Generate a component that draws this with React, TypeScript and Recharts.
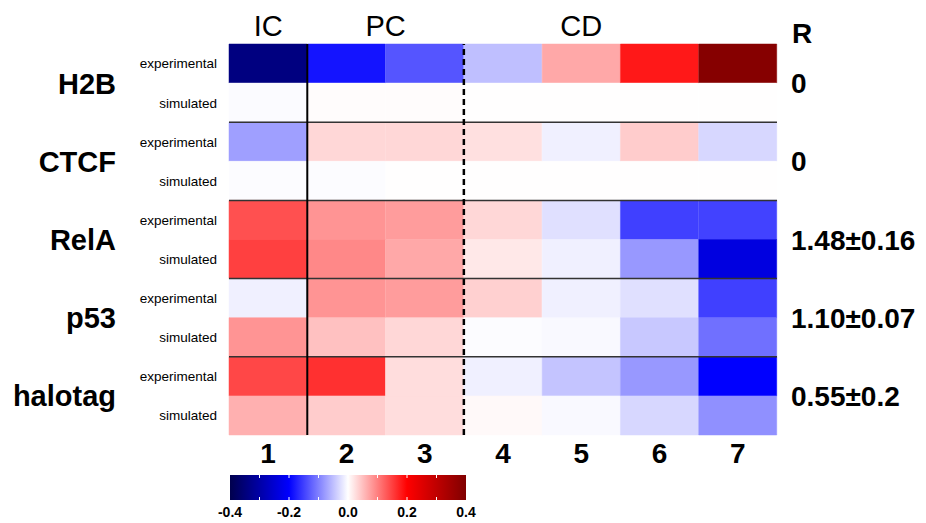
import {
  Bar,
  BarChart,
  Cell,
  ComposedChart,
  ReferenceArea,
  ReferenceLine,
  Scatter,
  XAxis,
  YAxis,
} from 'recharts';

const FONT = '"Liberation Sans", Arial, Helvetica, sans-serif';

// columns (time bins) and row groups
const columns = ['1', '2', '3', '4', '5', '6', '7'];
const proteins = ['H2B', 'CTCF', 'RelA', 'p53', 'halotag'];
const conditions = ['experimental', 'simulated'];
const rValues = ['0', '0', '1.48±0.16', '1.10±0.07', '0.55±0.2'];
const phaseLabels = ['IC', 'PC', 'CD'];
// column each phase label sits on, and where on that column
const phaseCols = ['1', '3', '5'];
const phasePos: ('start' | 'middle' | 'end')[] = ['middle', 'start', 'middle'];
const colorbarTicks = [-0.4, -0.2, 0, 0.2, 0.4];
const colorbarMinor = [-0.3, -0.2, -0.1, 0, 0.1, 0.2, 0.3];

// heatmap values, one array per row
const h2bExp = [-0.343, -0.184, -0.133, -0.05, 0.068, 0.181, 0.39];
const h2bSim = [-0.003, 0.002, 0.002, 0.001, 0.001, 0.001, 0.001];
const ctcfExp = [-0.075, 0.031, 0.031, 0.024, -0.012, 0.04, -0.031];
const ctcfSim = [-0.002, -0.002, 0.001, 0.001, 0.001, 0.001, 0.001];
const relaExp = [0.137, 0.084, 0.078, 0.031, -0.024, -0.15, -0.148];
const relaSim = [0.15, 0.093, 0.068, 0.018, -0.012, -0.081, -0.235];
const p53Exp = [-0.012, 0.084, 0.078, 0.037, -0.012, -0.024, -0.15];
const p53Sim = [0.084, 0.049, 0.031, -0.002, -0.005, -0.043, -0.112];
const haloExp = [0.144, 0.162, 0.027, -0.012, -0.046, -0.081, -0.2];
const haloSim = [0.062, 0.04, 0.027, 0.005, -0.005, -0.031, -0.087];

const heatRows = [h2bExp, h2bSim, ctcfExp, ctcfSim, relaExp, relaSim, p53Exp, p53Sim, haloExp, haloSim];

const V_MIN = -0.4;
const V_MAX = 0.4;
const ROW_H = 39.1;

// matplotlib "seismic"
const SEISMIC: [number, number[]][] = [
  [0, [0, 0, 77]],
  [0.25, [0, 0, 255]],
  [0.5, [255, 255, 255]],
  [0.75, [255, 0, 0]],
  [1, [128, 0, 0]],
];

function seismic(v: number): string {
  const t = Math.min(1, Math.max(0, (v - V_MIN) / (V_MAX - V_MIN)));
  for (let i = 1; i < SEISMIC.length; i++) {
    const [t1, c1] = SEISMIC[i];
    const [t0, c0] = SEISMIC[i - 1];
    if (t <= t1) {
      const f = (t - t0) / (t1 - t0);
      const c = c0.map((a, k) => Math.round(a + (c1[k] - a) * f));
      return `rgb(${c[0]},${c[1]},${c[2]})`;
    }
  }
  return 'rgb(128,0,0)';
}

const data = columns.map((col) => {
  const row: Record<string, string | number> = { col };
  heatRows.forEach((_, ri) => {
    row[`r${ri}`] = 1;
  });
  return row;
});

const colorbarData = [
  { x: V_MIN, y: 0 },
  { x: V_MAX, y: 1 },
];

const groupTicks = proteins.map((_, i) => i * conditions.length + conditions.length / 2);
const groupBounds = proteins.slice(1).map((_, i) => (i + 1) * conditions.length);

function RowTick(props: any) {
  const { x, y, index } = props;
  return (
    <g fontFamily={FONT} fill="#000">
      <text x={x - 101} y={y} dy="0.36em" textAnchor="end" fontSize={29} fontWeight="bold">
        {proteins[index]}
      </text>
      <text x={x} y={y - ROW_H / 2} dy="0.36em" textAnchor="end" fontSize={13.5}>
        {conditions[0]}
      </text>
      <text x={x} y={y + ROW_H / 2} dy="0.36em" textAnchor="end" fontSize={13.5}>
        {conditions[1]}
      </text>
    </g>
  );
}

function RTick(props: any) {
  const { x, y, index } = props;
  return (
    <text x={x} y={y} dy="0.36em" textAnchor="start" fontSize={28} fontWeight="bold" fontFamily={FONT} fill="#000">
      {rValues[index]}
    </text>
  );
}

function RLabel(props: any) {
  const { viewBox } = props;
  return (
    <text
      x={viewBox.x + 15}
      y={viewBox.y - 11}
      dy="0.36em"
      textAnchor="start"
      fontSize={28}
      fontWeight="bold"
      fontFamily={FONT}
      fill="#000"
    >
      R
    </text>
  );
}

export default function App() {
  return (
    <div style={{ position: 'absolute', left: 0, top: 0, width: 926, height: 523, background: '#fff' }}>
      <div style={{ position: 'absolute', left: 0, top: 0 }}>
        <BarChart
          width={926}
          height={470}
          data={data}
          barCategoryGap={0}
          barGap={0}
          margin={{ top: 44, right: 0, bottom: 0, left: 0 }}
        >
          <XAxis
            xAxisId="cols"
            dataKey="col"
            type="category"
            height={35}
            axisLine={false}
            tickLine={false}
            tickSize={0}
            tickMargin={8}
            tick={{ fontSize: 28, fontWeight: 'bold', fill: '#000', fontFamily: FONT }}
          />
          <YAxis
            yAxisId="rows"
            type="number"
            domain={[0, heatRows.length]}
            reversed
            ticks={groupTicks}
            width={229}
            axisLine={false}
            tickLine={false}
            tickSize={0}
            tickMargin={12}
            tick={<RowTick />}
          />
          <YAxis
            yAxisId="r"
            orientation="right"
            type="number"
            domain={[0, heatRows.length]}
            allowDataOverflow
            reversed
            ticks={groupTicks}
            width={149}
            axisLine={false}
            tickLine={false}
            tickSize={0}
            tickMargin={14}
            tick={<RTick />}
            label={<RLabel />}
          />
          {heatRows.map((vals, ri) => (
            <Bar
              key={ri}
              dataKey={`r${ri}`}
              stackId="heat"
              xAxisId="cols"
              yAxisId="rows"
              isAnimationActive={false}
            >
              {vals.map((v, ci) => (
                <Cell key={ci} fill={seismic(v)} stroke={seismic(v)} strokeWidth={0.5} />
              ))}
            </Bar>
          ))}
          {groupBounds.map((y) => (
            <ReferenceLine key={y} y={y} xAxisId="cols" yAxisId="rows" stroke="#333" strokeWidth={1.5} />
          ))}
          <ReferenceLine x="2" position="start" xAxisId="cols" yAxisId="rows" stroke="#000" strokeWidth={2} />
          <ReferenceLine
            x="4"
            position="start"
            xAxisId="cols"
            yAxisId="rows"
            stroke="#000"
            strokeWidth={2.5}
            strokeDasharray="6 4"
          />
          {phaseLabels.map((lab, i) => (
            <ReferenceLine
              key={lab}
              x={phaseCols[i]}
              position={phasePos[i]}
              xAxisId="cols"
              yAxisId="rows"
              stroke="none"
              label={{
                value: lab,
                position: 'top',
                offset: 8,
                fontSize: 29,
                fill: '#000',
                fontFamily: FONT,
              }}
            />
          ))}
          <ReferenceArea
            xAxisId="cols"
            yAxisId="rows"
            x1="1"
            x2="7"
            y1={0}
            y2={heatRows.length}
            fill="none"
            fillOpacity={0}
            stroke="#000"
            strokeWidth={2.5}
          />
        </BarChart>
      </div>
      <div style={{ position: 'absolute', left: 0, top: 460 }}>
        <ComposedChart
          width={926}
          height={63}
          data={colorbarData}
          margin={{ top: 15, right: 460, bottom: 0, left: 230 }}
        >
          <defs>
            <linearGradient id="seismicGrad" x1="0" y1="0" x2="1" y2="0">
              {SEISMIC.map(([t, c]) => (
                <stop key={t} offset={`${t * 100}%`} stopColor={`rgb(${c[0]},${c[1]},${c[2]})`} />
              ))}
            </linearGradient>
          </defs>
          <XAxis
            type="number"
            dataKey="x"
            domain={[V_MIN, V_MAX]}
            allowDataOverflow
            ticks={colorbarTicks}
            tickFormatter={(v: number) => v.toFixed(1)}
            height={23}
            axisLine={false}
            tickLine={false}
            tickSize={0}
            tickMargin={7}
            tick={{ fontSize: 14, fontWeight: 'bold', fill: '#000', fontFamily: FONT }}
          />
          <YAxis type="number" dataKey="y" domain={[0, 1]} allowDataOverflow hide />
          <Scatter dataKey="y" fill="none" shape={() => <g />} isAnimationActive={false} />
          <ReferenceArea x1={V_MIN} x2={V_MAX} y1={0} y2={1} fill="url(#seismicGrad)" fillOpacity={1} stroke="none" />
          {colorbarMinor.map((v) => (
            <ReferenceLine
              key={`t${v}`}
              segment={[
                { x: v, y: 0 },
                { x: v, y: 0.12 },
              ]}
              stroke="#fff"
              strokeWidth={1}
            />
          ))}
          {colorbarMinor.map((v) => (
            <ReferenceLine
              key={`b${v}`}
              segment={[
                { x: v, y: 0.88 },
                { x: v, y: 1 },
              ]}
              stroke="#fff"
              strokeWidth={1}
            />
          ))}
        </ComposedChart>
      </div>
    </div>
  );
}
